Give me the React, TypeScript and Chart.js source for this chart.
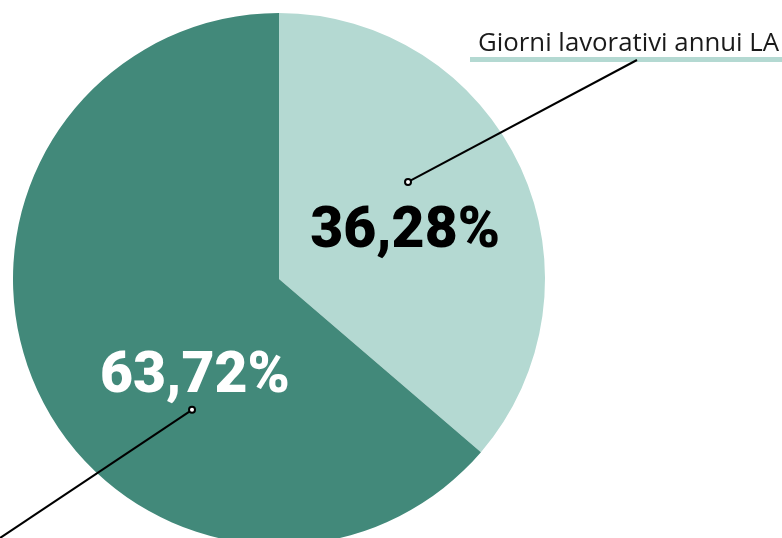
import React, { useEffect, useRef } from "react";
import { Chart, registerables } from "chart.js";

Chart.register(...registerables);

const categories = ["Giorni lavorativi annui LA", "Altro"];
const values = [36.28, 63.72];
const valueLabels = ["36,28%", "63,72%"];
const colors = ["#b4d9d2", "#42897a"];

const labelPlugin = {
  id: "customLabels",
  afterDraw(chart: any) {
    const ctx = chart.ctx;
    const meta = chart.getDatasetMeta(0);
    const a0 = meta.data[0];
    const cx = a0.x;
    const cy = a0.y;
    const R = a0.outerRadius;
    ctx.save();
    // percentage labels
    ctx.textAlign = "center";
    ctx.textBaseline = "middle";
    ctx.font = "900 57px Roboto";
    ctx.fillStyle = "#000";
    ctx.fillText(valueLabels[0], cx + 0.474 * R, cy - 0.174 * R);
    ctx.fillStyle = "#fff";
    ctx.fillText(valueLabels[1], cx - 0.316 * R, cy + 0.371 * R);

    // top-right label
    const tx = 478;
    const ty = 44;
    ctx.font = "25.8px 'Open Sans'";
    ctx.textAlign = "left";
    ctx.textBaseline = "middle";
    ctx.fillStyle = "#1a1a1a";
    ctx.fillText(categories[0], tx, ty);
    ctx.fillStyle = colors[0];
    ctx.fillRect(470, 57, 320, 5);

    // leader lines
    ctx.strokeStyle = "#000";
    ctx.lineWidth = 2;
    const p1 = { x: cx + 0.485 * R, y: cy - 0.365 * R };
    ctx.beginPath();
    ctx.moveTo(p1.x, p1.y);
    ctx.lineTo(637, 60);
    ctx.stroke();
    ctx.beginPath();
    ctx.arc(p1.x, p1.y, 3, 0, Math.PI * 2);
    ctx.fillStyle = "#fff";
    ctx.fill();
    ctx.stroke();

    const p2 = { x: cx - 0.327 * R, y: cy + 0.492 * R };
    ctx.beginPath();
    ctx.moveTo(p2.x, p2.y);
    ctx.lineTo(p2.x - 1.5 * (p2.x + 20), p2.y + (p2.x + 20) * 0.667 * 1.5);
    ctx.stroke();
    ctx.beginPath();
    ctx.arc(p2.x, p2.y, 3, 0, Math.PI * 2);
    ctx.fillStyle = "#fff";
    ctx.fill();
    ctx.stroke();
    ctx.restore();
  },
};

export default function App() {
  const ref = useRef<HTMLCanvasElement>(null);
  useEffect(() => {
    const chart = new Chart(ref.current!, {
      type: "pie",
      data: {
        labels: categories,
        datasets: [
          {
            data: values,
            backgroundColor: colors,
            borderWidth: 0,
          },
        ],
      },
      options: {
        responsive: false,
        animation: false,
        layout: { padding: { left: 13, top: 13, right: 237, bottom: 13 } },
        plugins: { legend: { display: false }, tooltip: { enabled: false } },
      },
      plugins: [labelPlugin],
    });
    return () => chart.destroy();
  }, []);
  return (
    <div
      style={{
        position: "absolute",
        left: 0,
        top: 0,
        width: 782,
        height: 538,
        overflow: "hidden",
        background: "#fff",
      }}
    >
      <canvas ref={ref} width={782} height={558} style={{ display: "block" }} />
    </div>
  );
}
